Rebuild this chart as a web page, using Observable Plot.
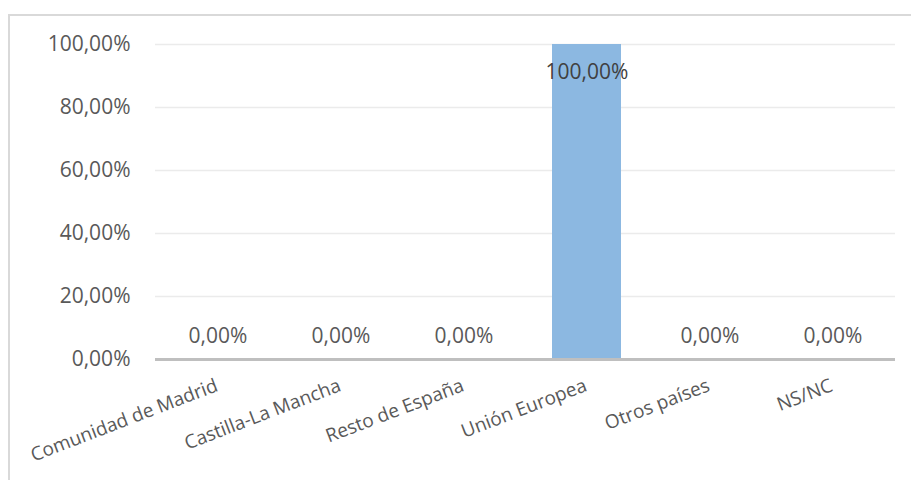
<!DOCTYPE html>
<html>
<head>
<meta charset="utf-8">
<script src="https://cdn.jsdelivr.net/npm/d3@7"></script>
<script src="https://cdn.jsdelivr.net/npm/@observablehq/plot@0.6"></script>
<style>
  html, body { margin: 0; padding: 0; background: #fff; }
  #wrap { position: relative; width: 911px; height: 480px; overflow: hidden; }
  #frame { position: absolute; left: 8px; top: 14px; width: 920px; height: 500px;
           border-left: 2px solid #D9D9D9; border-top: 2px solid #D9D9D9; box-sizing: border-box; }
  #chart { position: absolute; left: 0; top: 0; }
</style>
</head>
<body>
<div id="wrap"><div id="frame"></div><div id="chart"></div></div>
<script>
const categories = ["Comunidad de Madrid", "Castilla-La Mancha", "Resto de España", "Unión Europea", "Otros países", "NS/NC"];
const values = [0, 0, 0, 100, 0, 0];
const yTicks = [0, 20, 40, 60, 80, 100];

const data = categories.map((c, i) => ({category: c, value: values[i]}));
const loc = d3.formatLocale({decimal: ",", thousands: ".", grouping: [3], currency: ["", "€"]});
const f2 = loc.format(".2f");
const pct = v => f2(v) + "%";

const font = "'Open Sans', sans-serif";
const textColor = "#595959";

const chart = Plot.plot({
  width: 911,
  height: 480,
  marginLeft: 155,
  marginRight: 16,
  marginTop: 44,
  marginBottom: 121,
  style: {fontFamily: font, background: "transparent", overflow: "visible"},
  x: {domain: categories, paddingInner: 0.44, paddingOuter: 0.22, axis: null},
  y: {domain: [0, 100], axis: null},
  marks: [
    Plot.gridY(yTicks.filter(t => t > 0), {stroke: "#EBEBEB", strokeOpacity: 1, strokeWidth: 1.5}),
    Plot.barY(data, {x: "category", y: "value", fill: "#8CB8E1"}),
    Plot.ruleY([0], {stroke: "#BFBFBF", strokeWidth: 3}),
    Plot.text(yTicks, {x: null, y: d => d, text: d => pct(d), frameAnchor: "left", dx: -25, textAnchor: "end",
      fontSize: 21, fill: textColor}),
    Plot.text(data.filter(d => d.value < 90), {x: "category", y: "value", text: d => pct(d.value), dy: -23,
      fontSize: 21, fill: textColor}),
    Plot.text(data.filter(d => d.value >= 90), {x: "category", y: "value", text: d => pct(d.value), dy: 28,
      fontSize: 21, fill: "#404040"}),
    Plot.text(categories, {x: d => d, frameAnchor: "bottom", dy: 31, dx: 1, rotate: -21, textAnchor: "end",
      lineAnchor: "bottom", fontSize: 19, fill: textColor})
  ]
});
document.getElementById("chart").appendChild(chart);
</script>
</body>
</html>
